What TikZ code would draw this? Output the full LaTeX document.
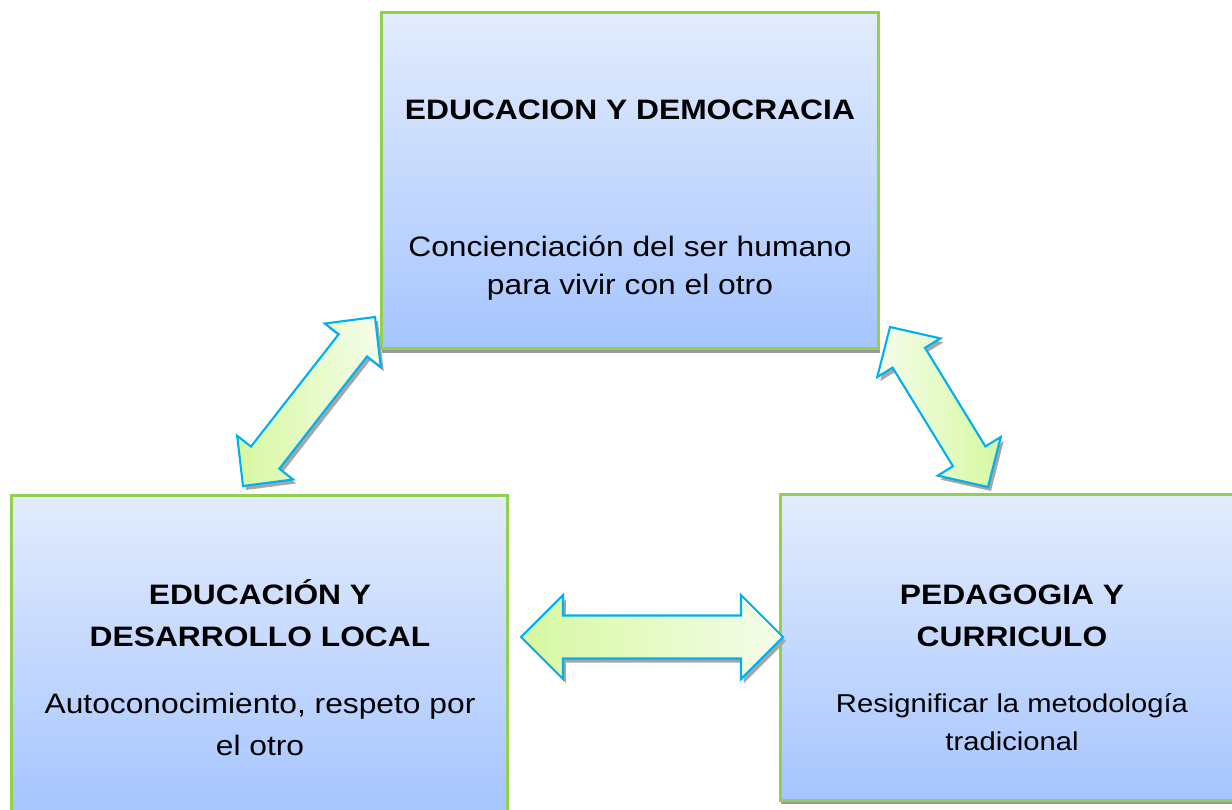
\documentclass[tikz,border=0pt]{standalone}
\usepackage{fontspec}
\setmainfont{Liberation Sans}[FakeStretch=1.13]
\usetikzlibrary{calc,shadows}

\definecolor{boxgreen}{HTML}{92D050}
\definecolor{boxtop}{HTML}{E2ECFD}
\definecolor{boxbottom}{HTML}{A6C5FE}
\definecolor{arrowline}{HTML}{00B0F0}
\definecolor{arrowdark}{HTML}{D6F8A0}
\definecolor{arrowlight}{HTML}{F5FDEB}

\tikzset{
    box/.style={draw=boxgreen, line width=1.7pt, top color=boxtop, bottom color=boxbottom,
        inner sep=0pt, drop shadow={shadow xshift=0.02cm, shadow yshift=-0.08cm, fill=black!40, opacity=1}},
    boxtitle/.style={anchor=base, align=center, font=\fontsize{16}{23.8}\selectfont\bfseries},
    boxtext/.style={anchor=base, align=center, font=\fontsize{#1}{23.8}\selectfont},
    blockarrow/.style={draw=arrowline, line width=1.2pt, line join=miter,
        drop shadow={shadow xshift=0.06cm, shadow yshift=-0.08cm, fill=black!35, opacity=1}},
}

% double block arrow: [shading] from, to, shaft half width, head half width, head length
\newcommand{\blockarrow}[6][]{%
    \coordinate (ha) at ($(#2)!#6!(#3)$);
    \coordinate (hb) at ($(#3)!#6!(#2)$);
    \path[blockarrow, #1] (#2) -- ($(ha)!#5!-90:(#3)$) -- ($(ha)!#4!-90:(#3)$)
        -- ($(hb)!#4!90:(#2)$) -- ($(hb)!#5!90:(#2)$) -- (#3)
        -- ($(hb)!#5!-90:(#2)$) -- ($(hb)!#4!-90:(#2)$)
        -- ($(ha)!#4!90:(#3)$) -- ($(ha)!#5!90:(#3)$) -- cycle;
}

\begin{document}
\begin{tikzpicture}[x=0.02cm, y=-0.02cm]
    \useasboundingbox (0,0) rectangle (1232,809);
    \clip (0,0) rectangle (1232,809);

    % boxes
    \node[box, minimum width=9.96cm, minimum height=6.74cm] (dem) at (630,180.5) {};
    \node[box, minimum width=9.94cm, minimum height=6.34cm] (loc) at (259.5,653.5) {};
    \node[box, minimum width=9.28cm, minimum height=6.11cm] (ped) at (1012,647.3) {};

    % texts (base = last line)
    \node[boxtitle] (demT) at (630,119) {EDUCACION Y DEMOCRACIA};
    \node[boxtext=16, font=\fontsize{16}{21.5}\selectfont] (demX) at (630,294) {Concienciación del ser humano\\para vivir con el otro};

    \node[boxtitle] (locT) at (260,646) {EDUCACIÓN Y\\DESARROLLO LOCAL};
    \node[boxtext=16] (locX) at (260,755) {Autoconocimiento, respeto por\\el otro};

    \node[boxtitle] (pedT) at (1012,646) {PEDAGOGIA Y\\CURRICULO};
    \node[boxtext=14.7, font=\fontsize{14.7}{21.5}\selectfont] (pedX) at (1012,750) {Resignificar la metodología\\tradicional};

    % arrow ends
    \coordinate (locN) at (243,486);
    \coordinate (demW) at (375,317);
    \coordinate (demE) at (890,327);
    \coordinate (pedN) at (988,487);
    \coordinate (locE) at (521,637);
    \coordinate (pedW) at (783,637);

    \blockarrow[left color=arrowdark, right color=arrowlight]{locN}{demW}{0.36cm}{0.71cm}{0.72cm}
    \blockarrow[left color=arrowlight, right color=arrowdark]{demE}{pedN}{0.38cm}{0.74cm}{0.72cm}
    \blockarrow[left color=arrowdark, right color=arrowlight]{locE}{pedW}{0.43cm}{0.84cm}{0.84cm}
\end{tikzpicture}
\end{document}
